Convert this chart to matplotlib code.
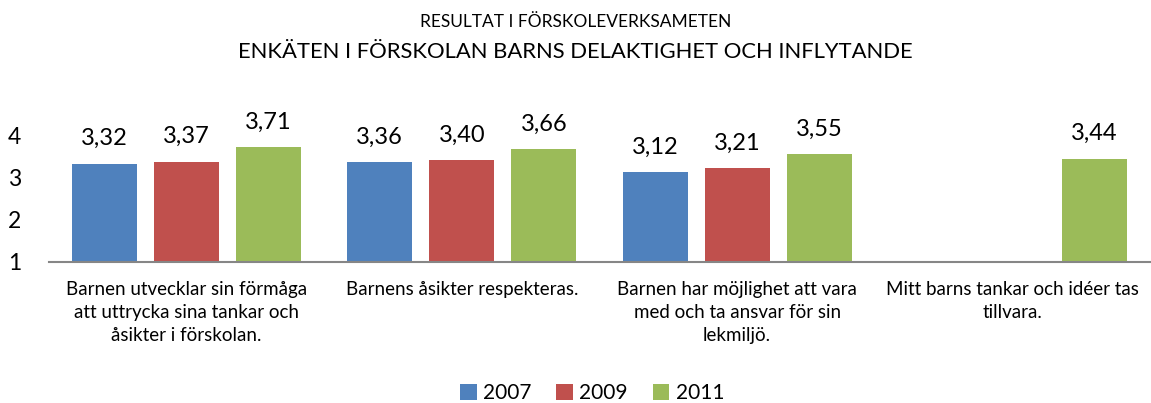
import matplotlib
matplotlib.use("Agg")
import matplotlib.pyplot as plt
from matplotlib.patches import Patch
import numpy as np

categories = [
    "Barnen utvecklar sin förmåga\natt uttrycka sina tankar och\nåsikter i förskolan.",
    "Barnens åsikter respekteras.",
    "Barnen har möjlighet att vara\nmed och ta ansvar för sin\nlekmiljö.",
    "Mitt barns tankar och idéer tas\ntillvara.",
]
series_names = ["2007", "2009", "2011"]
v2007 = [3.32, 3.36, 3.12, np.nan]
v2009 = [3.37, 3.40, 3.21, np.nan]
v2011 = [3.71, 3.66, 3.55, 3.44]
colors = ["#4F81BD", "#C0504D", "#9BBB59"]
yticks = [1, 2, 3, 4]

plt.rcParams['font.family'] = ['Lato', 'DejaVu Sans']

fig = plt.figure(figsize=(11.51, 4.03), dpi=100)
ax = fig.add_axes([49/1151, 1-262/403, (1150-49)/1151, (262-135)/403])

x = np.arange(len(categories))
w = 0.236
step = 0.298
for i, (vals, c) in enumerate(zip([v2007, v2009, v2011], colors)):
    pos = x + (i-1)*step
    ax.bar(pos, np.array(vals)-1, bottom=1, width=w, color=c, clip_on=False)
    for p, v in zip(pos, vals):
        if not np.isnan(v):
            ax.annotate(f"{v:.2f}".replace('.', ','), (p, v), xytext=(0, 18),
                        textcoords='offset points', ha='center', va='center',
                        fontsize=17, annotation_clip=False)

ax.set_xlim(-0.5, 3.5)
ax.set_ylim(1, 4)
ax.set_yticks(yticks)
ax.set_yticklabels([str(t) for t in yticks], fontsize=16.5)
ax.tick_params(axis='y', length=0, pad=20)
ax.set_xticks(x)
ax.set_xticklabels(categories, fontsize=13.5, linespacing=1.4, va='top')
ax.tick_params(axis='x', length=0, pad=14)
for s in ['top', 'right', 'left']:
    ax.spines[s].set_visible(False)
ax.spines['bottom'].set_color('#868686')
ax.spines['bottom'].set_linewidth(1.5)

fig.text(0.5, 1-22/403, "RESULTAT I FÖRSKOLEVERKSAMETEN", ha='center', va='center', fontsize=12.5)
fig.text(0.5, 1-52/403, "ENKÄTEN I FÖRSKOLAN BARNS DELAKTIGHET OCH INFLYTANDE", ha='center', va='center', fontsize=15.8)

handles = [Patch(facecolor=c) for c in colors]
fig.legend(handles, series_names, loc='center', bbox_to_anchor=(592/1151, 1-393/403), ncol=3,
           frameon=False, fontsize=15, handlelength=0.8, handleheight=0.8, handletextpad=0.3,
           columnspacing=1.2)

fig.savefig("out.png", dpi=100)
